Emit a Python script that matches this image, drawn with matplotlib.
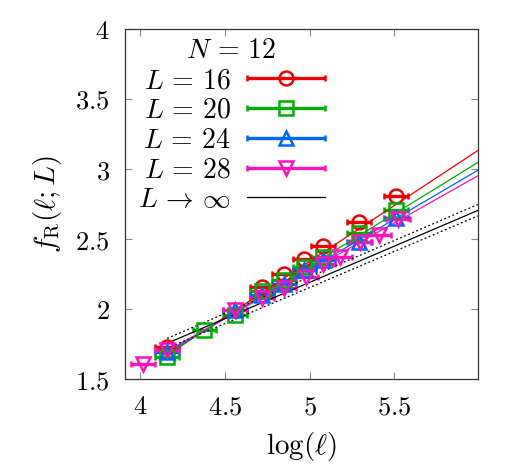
import numpy as np
import matplotlib
matplotlib.use('Agg')
import matplotlib.pyplot as plt
from matplotlib.container import ErrorbarContainer
from matplotlib.legend_handler import HandlerErrorbar

plt.rcParams['mathtext.fontset'] = 'cm'
plt.rcParams['font.family'] = 'serif'
plt.rcParams['font.serif'] = ['DejaVu Serif']

# data: log(l) and f_R(l; L) for each system size
x16 = [4.16, 4.72, 4.85, 4.97, 5.08, 5.29, 5.51]
y16 = [1.73, 2.16, 2.25, 2.36, 2.45, 2.62, 2.81]
x20 = [4.16, 4.38, 4.56, 4.72, 4.85, 4.97, 5.08, 5.29, 5.51]
y20 = [1.66, 1.85, 1.96, 2.13, 2.21, 2.30, 2.37, 2.54, 2.71]
x24 = [4.16, 4.56, 4.72, 4.85, 4.97, 5.08, 5.29, 5.51]
y24 = [1.69, 1.99, 2.10, 2.18, 2.28, 2.35, 2.48, 2.65]
x28 = [4.02, 4.16, 4.56, 4.72, 4.85, 4.98, 5.08, 5.18, 5.30, 5.41, 5.52]
y28 = [1.61, 1.71, 1.99, 2.08, 2.15, 2.23, 2.32, 2.37, 2.48, 2.53, 2.64]
xerr = 0.07

# linear fits f = a + b*log(l), drawn from log(l)=4.16
fit_x0 = 4.16
fit_a = {'16': 1.67, '20': 1.68, '24': 1.69, '28': 1.70}
fit_b = {'16': 0.798, '20': 0.746, '24': 0.710, '28': 0.683}
inf_a, inf_b = 1.755, 0.518
inf_lo_a, inf_lo_b = 1.72, 0.516
inf_hi_a, inf_hi_b = 1.79, 0.522

colors = {'16': '#f00000', '20': '#00b000', '24': '#0066ff', '28': '#ff10c0'}
markers = {'16': 'o', '20': 's', '24': '^', '28': 'v'}
series = {'16': (x16, y16), '20': (x20, y20), '24': (x24, y24), '28': (x28, y28)}

fig = plt.figure(figsize=(5.32, 4.73), dpi=100)
ax = fig.add_axes([0.235, 0.1987, 0.663, 0.74])

handles = []
for key in ['16', '20', '24', '28']:
    xs, ys = series[key]
    h = ax.errorbar(xs, ys, xerr=xerr, fmt=markers[key], color=colors[key],
                    mfc='none', mec=colors[key], ms=10, mew=1.8,
                    elinewidth=2.4, capsize=2.5, capthick=1.5,
                    label=r'$L\,=\,%s$' % key)
    handles.append(h)

xmin, xmax = np.log(50), np.log(400)
xf = np.array([fit_x0, xmax])
for key in ['16', '20', '24', '28']:
    ax.plot(xf, fit_a[key] + fit_b[key] * (xf - fit_x0), color=colors[key], lw=0.9)
hinf, = ax.plot(xf, inf_a + inf_b * (xf - fit_x0), color='black', lw=0.9,
                label=r'$L\,\to\,\infty$')
ax.plot(xf, inf_lo_a + inf_lo_b * (xf - fit_x0), color='black', lw=0.9, ls=(0, (1.5, 2)))
ax.plot(xf, inf_hi_a + inf_hi_b * (xf - fit_x0), color='black', lw=0.9, ls=(0, (1.5, 2)))
handles.append(hinf)

ax.set_xlim(xmin, xmax)
ax.set_ylim(1.5, 4)
ax.set_xticks([4, 4.5, 5, 5.5], labels=['$4$', '$4.5$', '$5$', '$5.5$'])
ax.set_yticks([1.5, 2, 2.5, 3, 3.5, 4], labels=['$1.5$', '$2$', '$2.5$', '$3$', '$3.5$', '$4$'])
ax.tick_params(direction='in', length=5, width=0.8, color='#888888',
               top=True, right=True, labelsize=19, pad=11)
for s in ax.spines.values():
    s.set_linewidth(0.9)
    s.set_color('#333333')

ax.set_xlabel(r'$\log(\ell)$', fontsize=21, labelpad=8)
ax.set_ylabel(r'$f_{\rm R}(\ell;L)$', fontsize=21, labelpad=8)

leg = ax.legend(handles=handles, loc='upper left', bbox_to_anchor=(0.013, 1.0),
                frameon=False, markerfirst=False,
                title=r'$N\,=\,12$', title_fontsize=20, fontsize=20,
                handlelength=2.8, handletextpad=0.6, labelspacing=0.1,
                borderaxespad=0.1, borderpad=0.2,
                handler_map={ErrorbarContainer: HandlerErrorbar(xerr_size=1.4)})

fig.savefig('out.png', dpi=100)
